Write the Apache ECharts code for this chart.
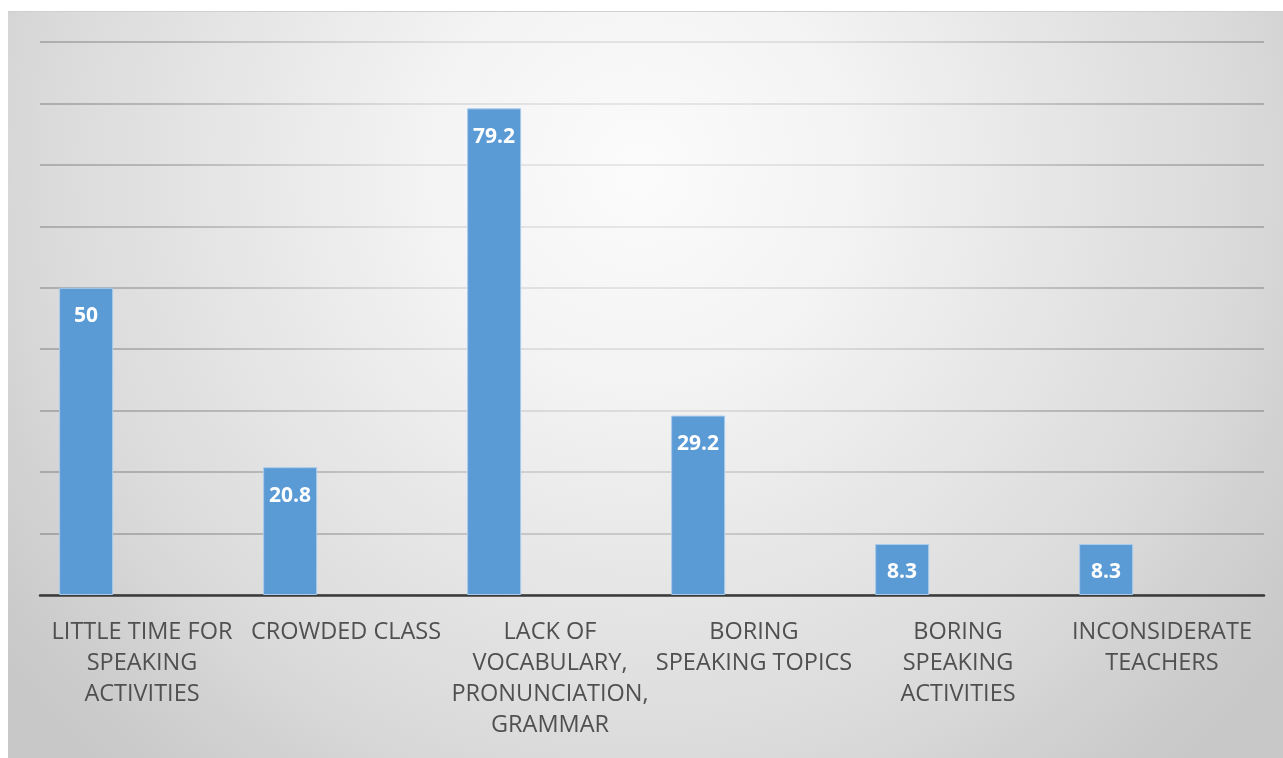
<!DOCTYPE html>
<html>
<head>
<meta charset="utf-8">
<script src="https://cdn.jsdelivr.net/npm/echarts@6/dist/echarts.min.js"></script>
<style>
html,body{margin:0;padding:0;background:#fff;}
#c{width:1283px;height:758px;}
</style>
</head>
<body>
<div id="c"></div>
<script>
const categories = [
  'LITTLE TIME FOR\nSPEAKING\nACTIVITIES',
  'CROWDED CLASS',
  'LACK OF\nVOCABULARY,\nPRONUNCIATION,\nGRAMMAR',
  'BORING\nSPEAKING TOPICS',
  'BORING\nSPEAKING\nACTIVITIES',
  'INCONSIDERATE\nTEACHERS'
];
const values = [50, 20.8, 79.2, 29.2, 8.3, 8.3];
const emptySeries = [];

const chart = echarts.init(document.getElementById('c'));
chart.setOption({
  animation: false,
  backgroundColor: '#ffffff',
  graphic: [{
    type: 'rect',
    z: -10,
    silent: true,
    shape: {x: 8, y: 11, width: 1275, height: 747},
    style: {
      fill: new echarts.graphic.RadialGradient(640, 170, 800, [
        {offset: 0, color: '#fbfbfb'},
        {offset: 0.25, color: '#f4f4f4'},
        {offset: 0.75, color: '#dadada'},
        {offset: 0.85, color: '#d2d2d2'},
        {offset: 1, color: '#c8c8c8'}
      ], true)
    }
  }, {
    type: 'line', z: -9, silent: true,
    shape: {x1: 8, y1: 11.5, x2: 1283, y2: 11.5},
    style: {stroke: '#cfcfcf', lineWidth: 1}
  }],
  grid: {left: 40, right: 19, top: 42, bottom: 163, containLabel: false},
  xAxis: {
    type: 'category',
    data: categories,
    axisTick: {show: false},
    axisLine: {lineStyle: {color: '#3a3a3a', width: 2.5}},
    axisLabel: {
      interval: 0,
      color: '#505050',
      fontFamily: 'Open Sans',
      fontSize: 23.5,
      lineHeight: 31,
      margin: 22
    }
  },
  yAxis: {
    type: 'value',
    min: 0, max: 90, interval: 10,
    axisLabel: {show: false},
    axisLine: {show: false},
    axisTick: {show: false},
    splitLine: {lineStyle: {
      width: 1.5,
      color: new echarts.graphic.RadialGradient(640, 170, 800, [
        {offset: 0, color: '#e2e2e2'},
        {offset: 0.3, color: '#d6d6d6'},
        {offset: 0.6, color: '#a8a8a8'},
        {offset: 1, color: '#909090'}
      ], true)
    }}
  },
  series: [{
    type: 'bar',
    data: values,
    barWidth: 54,
    barGap: '107%',
    itemStyle: {color: '#5b9bd5', borderColor: '#a9cbea', borderWidth: 1},
    label: {
      show: true,
      position: 'insideTop',
      distance: 18,
      color: '#ffffff',
      fontFamily: 'Open Sans',
      fontWeight: 'bold',
      fontSize: 21
    }
  }, {
    type: 'bar',
    data: emptySeries,
    barWidth: 54
  }]
});
</script>
</body>
</html>
